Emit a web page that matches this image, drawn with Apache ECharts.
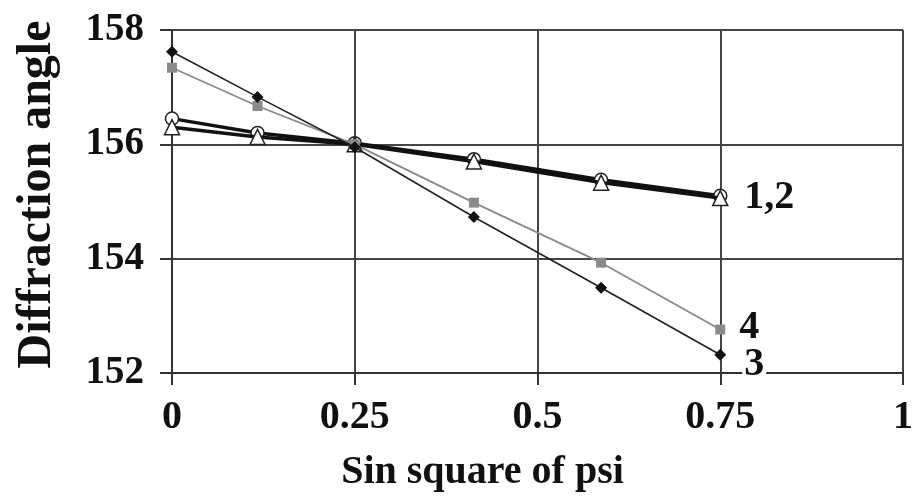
<!DOCTYPE html>
<html>
<head>
<meta charset="utf-8">
<script src="https://cdn.jsdelivr.net/npm/echarts@6/dist/echarts.min.js"></script>
<style>html,body{margin:0;padding:0;background:#fff}#c{width:916px;height:504px}</style>
</head>
<body>
<div id="c"></div>
<script>
// sin^2(psi) positions
const xValues = [0, 0.117, 0.25, 0.413, 0.587, 0.75];
// Diffraction angle values
const series1 = [156.45, 156.2, 156.02, 155.74, 155.38, 155.1];
const series2 = [156.3, 156.13, 156.0, 155.7, 155.33, 155.06];
const series3 = [157.62, 156.83, 155.95, 154.73, 153.49, 152.32];
const series4 = [157.34, 156.67, 156.0, 154.98, 153.93, 152.76];
const endLabels = ['1,2', '', '3', '4'];
const xTicks = [0, 0.25, 0.5, 0.75, 1];

const FONT = 'Liberation Serif';
const pairs = ys => xValues.map((x, i) => [x, ys[i]]);

const chart = echarts.init(document.getElementById('c'), null, {renderer: 'canvas'});
const endLbl = (text, offset) => ({
  show: !!text, formatter: text, offset: offset,
  fontFamily: FONT, fontWeight: 'bold', fontSize: 40, color: '#111',
  backgroundColor: '#fff', padding: [0, 2, 0, 2], lineHeight: 30
});
chart.setOption({
  animation: false,
  backgroundColor: '#fff',
  textStyle: {fontFamily: FONT},
  grid: {left: 172, right: 6, top: 30, bottom: 131, containLabel: false},
  xAxis: {
    type: 'value', min: 0, max: 1, interval: 0.25,
    axisLine: {show: true, lineStyle: {color: '#333', width: 2}},
    axisTick: {show: true, inside: false, length: 12, lineStyle: {color: '#333', width: 2}},
    splitLine: {show: true, lineStyle: {color: '#444', width: 2}},
    axisLabel: {
      margin: 25, fontFamily: FONT, fontWeight: 'bold', fontSize: 40, color: '#111',
      formatter: v => String(xTicks.find(t => Math.abs(t - v) < 1e-9) ?? v)
    },
    name: 'Sin square of psi', nameLocation: 'middle', nameGap: 80,
    nameTextStyle: {fontFamily: FONT, fontWeight: 'bold', fontSize: 40, color: '#111', padding: [0, 110, 0, 0]}
  },
  yAxis: {
    type: 'value', min: 152, max: 158, interval: 2,
    axisLine: {show: true, lineStyle: {color: '#333', width: 2}},
    axisTick: {show: true, inside: false, length: 12, lineStyle: {color: '#333', width: 2}},
    splitLine: {show: true, lineStyle: {color: '#444', width: 2}},
    axisLabel: {margin: 28, fontFamily: FONT, fontWeight: 'bold', fontSize: 39, color: '#111'},
    name: 'Diffraction angle', nameLocation: 'middle', nameGap: 110,
    nameTextStyle: {fontFamily: FONT, fontWeight: 'bold', fontSize: 48, color: '#111', padding: [0, 0, 0, 14]}
  },
  series: [
    {
      name: '1', type: 'line', data: pairs(series1), symbol: 'circle', symbolSize: 13,
      lineStyle: {color: '#111', width: 3.5}, itemStyle: {color: '#fff', borderColor: '#222', borderWidth: 1.5},
      endLabel: endLbl(endLabels[0], [14, 2]), z: 3
    },
    {
      name: '2', type: 'line', data: pairs(series2), symbol: 'triangle', symbolSize: 15,
      lineStyle: {color: '#111', width: 3.5}, itemStyle: {color: '#fff', borderColor: '#222', borderWidth: 1.5},
      z: 4
    },
    {
      name: '3', type: 'line', data: pairs(series3), symbol: 'diamond', symbolSize: 12,
      lineStyle: {color: '#222', width: 1.6}, itemStyle: {color: '#111'},
      endLabel: endLbl(endLabels[2], [14, 10]), z: 5
    },
    {
      name: '4', type: 'line', data: pairs(series4), symbol: 'rect', symbolSize: 10,
      lineStyle: {color: '#8a8a8a', width: 1.8}, itemStyle: {color: '#8a8a8a'},
      endLabel: endLbl(endLabels[3], [9, -2]), z: 4
    }
  ]
});
</script>
</body>
</html>
